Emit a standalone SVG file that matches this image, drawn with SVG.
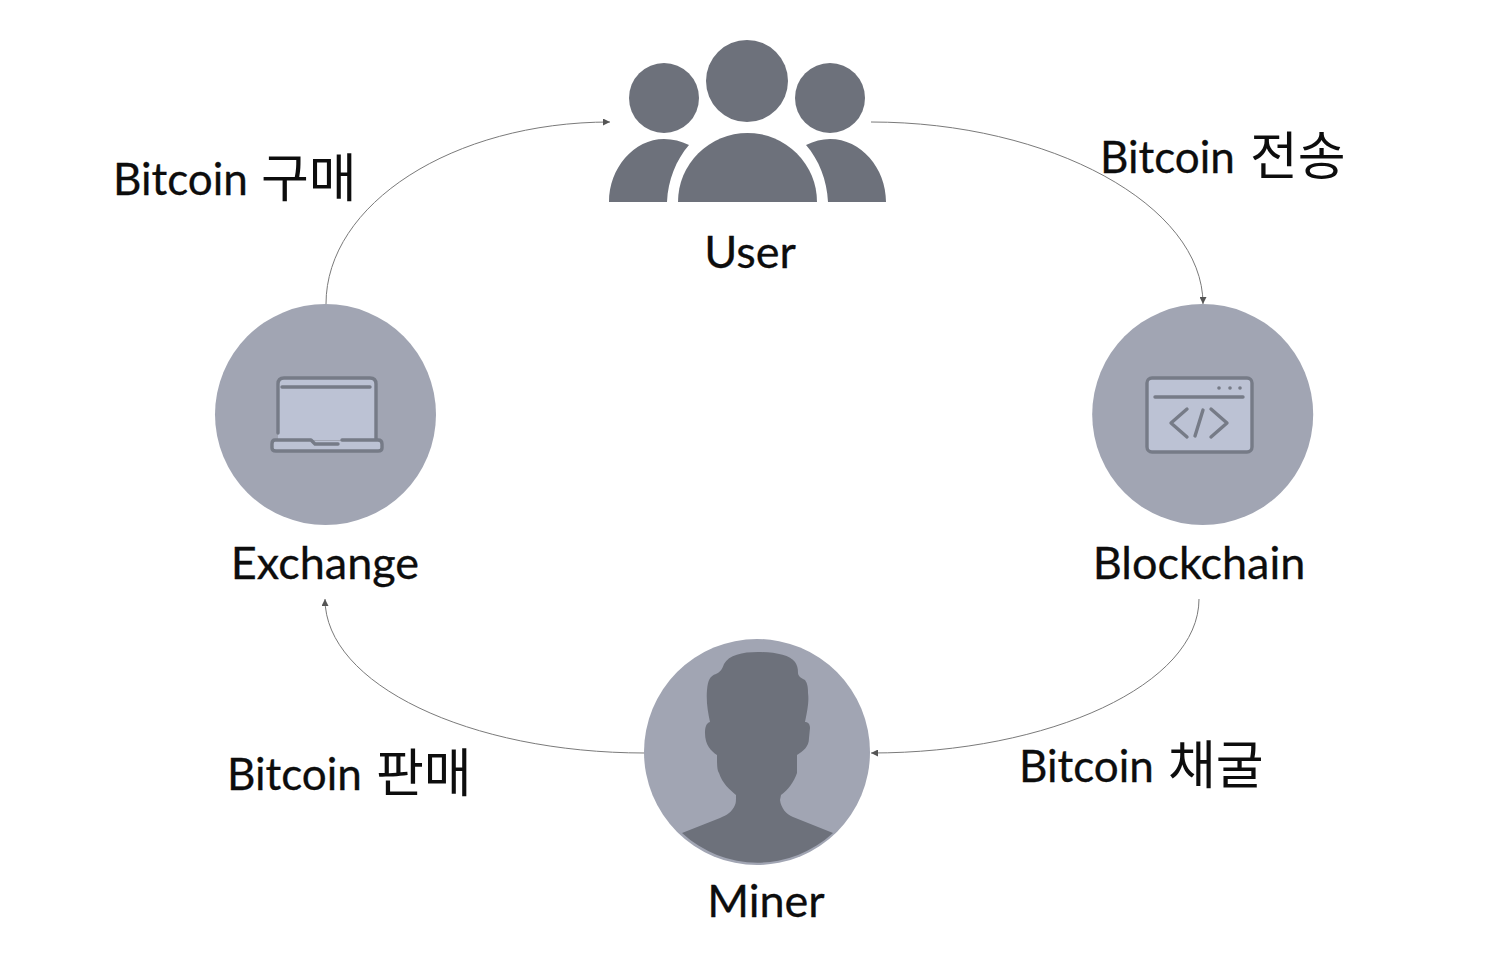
<svg xmlns="http://www.w3.org/2000/svg" width="1510" height="979" viewBox="0 0 1510 979">
<style>
.t{font-family:"Lato","Noto Sans CJK KR",sans-serif;font-size:45px;fill:#0d0d0d;stroke:#0d0d0d;stroke-width:.3}
.c{font-family:"Lato","Noto Sans CJK KR",sans-serif;font-size:44px;fill:#0d0d0d;stroke:#0d0d0d;stroke-width:.3}
.h{font-family:"Noto Sans CJK KR",sans-serif;font-size:52px;stroke-width:0}
.dark{fill:#6d717b}
.disc{fill:#a1a5b3}
.ic{fill:#bcc2d4}
.il{fill:none;stroke:#767b87;stroke-width:3.400;stroke-linecap:round;stroke-linejoin:round}
.k{fill:none;stroke:#7a7a7a;stroke-width:1;marker-end:url(#a)}
</style>
<defs><marker id="a" markerUnits="userSpaceOnUse" markerWidth="8" markerHeight="7" refX="7" refY="3.500" orient="auto"><path d="M0 0L7 3.500L0 7Z" fill="#555"/></marker></defs>
<rect width="1510" height="979" fill="#fff"/>
<g id="connectors">
<path class="k" d="M326 304C326 204 453 122 610 122"/>
<path class="k" d="M871 122C1050 122 1203 205 1203 304"/>
<path class="k" d="M1199 599C1199 684 1051 753 871 753"/>
<path class="k" d="M645 753C469 753 325 684 325 599"/>
</g>
<g id="user">
<circle class="dark" cx="747" cy="81" r="41"/><circle class="dark" cx="664" cy="98" r="35"/><circle class="dark" cx="830" cy="98" r="35"/>
<path class="dark" d="M678 202A69.500 69 0 0 1 817 202Z"/>
<path class="dark" d="M609 202C609 168 634 139 664 139C673 139 681 141 689 145C676 160 668 180 667 202Z"/>
<path class="dark" d="M886 202C886 168 861 139 830 139C822 139 814 141 806 145C819 160 827 180 828 202Z"/>
<text class="t" x="750" y="268" text-anchor="middle">User</text>
</g>
<g id="exchange">
<circle class="disc" cx="325.500" cy="414.500" r="110.500"/>
<path class="ic" d="M278 440V384Q278 378 284 378H370Q376 378 376 384V440Z"/>
<path class="ic" d="M272 441H382V447Q382 452 377 452H277Q272 452 272 447Z"/>
<path class="il" d="M278 433V384Q278 378 284 378H370Q376 378 376 384V439M282 387H370"/>
<path class="il" d="M311 440H275Q272 440 272 444V448Q272 451 276 451H378Q382 451 382 448V444Q382 440 378 440H342M311 440L315 444H338"/>
<text class="t" x="325" y="579" text-anchor="middle">Exchange</text>
</g>
<g id="blockchain">
<circle class="disc" cx="1202.700" cy="414.500" r="110.500"/>
<rect class="ic" x="1147" y="378" width="105" height="74" rx="5"/>
<rect class="il" x="1147" y="378" width="105" height="74" rx="5"/>
<path class="il" d="M1155 397H1243M1187 409L1171 423L1187 437M1203 410L1195 436M1211 409L1227 423L1211 437"/>
<circle cx="1219" cy="388" r="1.800" fill="#767b87"/><circle cx="1230" cy="388" r="1.800" fill="#767b87"/><circle cx="1240" cy="388" r="1.800" fill="#767b87"/>
<text class="t" x="1199" y="579" text-anchor="middle">Blockchain</text>
</g>
<g id="miner">
<circle class="disc" cx="757" cy="752" r="113"/>
<path class="dark" d="M758 652C742 652 729 655 724 664C722 670 720 672 716 674C710 676 708 680 707 690C706 702 708 712 710 722C706 723 705 728 705 733C705 745 711 751 717 755C717 765 717 770 719 773C722 783 730 790 736 795C736 800 736 803 735 805C732 812 727 815 720 818L682 833A111 111 0 0 0 833 833L793 817C786 814 781 808 780 800L781 795C788 790 794 782 797 773L797 755C803 751 809 747 809 738L810 728C810 724 808 722 805 722C808 708 809 700 808 693C808 686 807 683 805 680C801 678 798 676 798 673C798 668 797 665 795 662C790 655 775 652 758 652Z"/>
<text class="t" x="766" y="917" text-anchor="middle">Miner</text>
</g>
<g id="labels">
<text class="c" x="113" y="195">Bitcoin<tspan class="h" x="261" y="197">구매</tspan></text>
<text class="c" x="1100" y="173">Bitcoin<tspan class="h" x="1250" y="175">전송</tspan></text>
<text class="c" x="1019" y="782">Bitcoin<tspan class="h" x="1168" y="784">채굴</tspan></text>
<text class="c" x="227" y="790">Bitcoin<tspan class="h" x="376" y="792">판매</tspan></text>
</g>
</svg>
